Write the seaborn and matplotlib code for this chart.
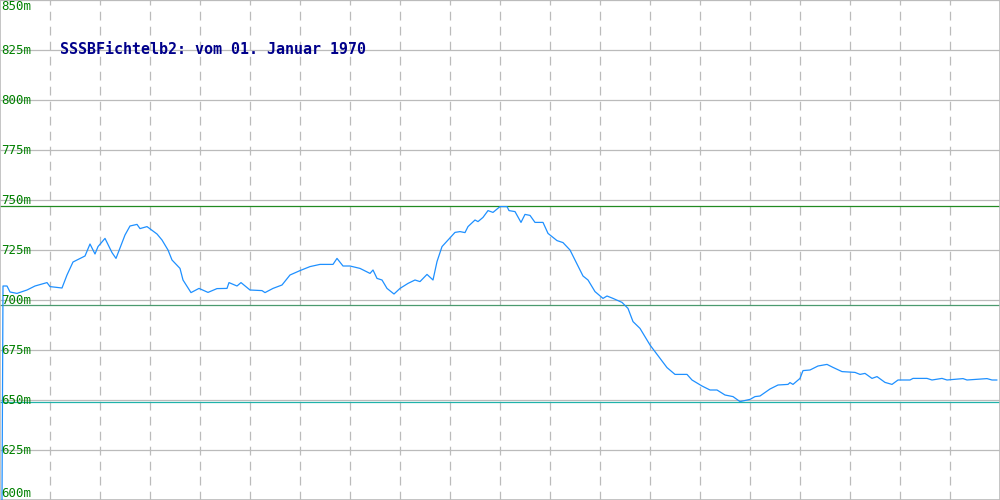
import matplotlib
matplotlib.use("Agg")
import matplotlib.pyplot as plt
import seaborn as sns
import pandas as pd

# profile data (distance index vs elevation in m)
dist = [2, 3, 7, 10, 17, 27, 35, 47, 50, 62, 67, 73, 85, 90, 95, 98, 105, 112, 116,
        125, 130, 137, 140, 147, 157, 162, 168, 172, 180, 183, 191, 199, 208, 217,
        227, 229, 237, 241, 250, 262, 265, 273, 282, 290, 300, 310, 320, 333, 337,
        343, 350, 360, 370, 373, 377, 382, 387, 394, 400, 408, 415, 420, 427, 433,
        437, 442, 448, 455, 460, 465, 468, 475, 478, 483, 488, 493, 500, 507, 509,
        515, 521, 525, 530, 535, 543, 548, 557, 563, 570, 575, 583, 588, 595, 603,
        607, 613, 622, 628, 633, 640, 650, 660, 667, 675, 687, 692, 702, 710, 717,
        725, 733, 740, 750, 755, 760, 770, 778, 788, 790, 793, 800, 803, 810, 818,
        827, 833, 842, 855, 860, 865, 872, 877, 885, 892, 898, 910, 913, 927, 932,
        942, 947, 963, 967, 987, 992, 997]
elev = [600, 707, 707, 704, 703.3, 705, 707, 708.7, 706.7, 706, 712.5, 719, 722, 728,
        723, 726.7, 730.8, 723.7, 720.8, 732.5, 737, 737.8, 735.7, 736.7, 733, 730,
        725, 720, 715.8, 710, 703.7, 705.8, 703.8, 705.7, 705.8, 708.7, 707, 708.7,
        705, 704.7, 703.7, 705.8, 707.5, 712.5, 714.7, 716.7, 717.8, 717.8, 720.8,
        717, 717, 715.8, 713.3, 715, 710.8, 710, 705.8, 703, 705.8, 708.3, 710,
        709.2, 712.8, 710, 719.2, 726.7, 730, 733.8, 734.2, 733.7, 736.7, 740,
        739.2, 741.3, 744.7, 743.8, 746.7, 746.7, 744.7, 744.2, 738.8, 742.8,
        742.3, 738.8, 738.8, 733.3, 729.7, 728.7, 725, 720, 712, 710, 704.2, 700.8,
        702, 700.8, 698.8, 695.8, 689.2, 685.8, 677.5, 670.8, 666.2, 662.8, 662.8,
        660, 657, 655, 655, 652.5, 651.7, 649.2, 650.3, 651.7, 652, 655.5, 657.5,
        657.8, 658.7, 657.8, 660.8, 664.7, 665, 667, 667.8, 666.3, 664.2, 663.8,
        662.8, 663.3, 660.8, 661.7, 658.8, 657.8, 660, 660, 660.8, 660.8, 660,
        660.8, 660, 660.7, 660, 660.7, 660, 660]

y_ticks = [600, 625, 650, 675, 700, 725, 750, 775, 800, 825, 850]
x_grid = [50, 100, 150, 200, 250, 300, 350, 400, 450, 500, 550, 600, 650, 700,
          750, 800, 850, 900, 950]
max_elev = 747
mid_elev = 697.5
min_elev = 649
title = "SSSBFichtelb2: vom 01. Januar 1970"

df = pd.DataFrame({"dist": dist, "elev": elev})

sns.set_style("white")
plt.rcParams["font.family"] = ["DejaVu Sans Mono", "DejaVu Sans"]

fig = plt.figure(figsize=(10, 5), dpi=100)
ax = fig.add_axes([0, 0, 1, 1])
ax.set_xlim(0, 1000)
ax.set_ylim(600, 850)

# grid
for v in y_ticks:
    ax.axhline(v, color="#bbbbbb", lw=0.9, zorder=1)
for x in x_grid:
    ax.axvline(x, color="#bbbbbb", lw=0.9, dashes=(7, 5), zorder=1)

# reference lines
ax.axhline(max_elev, color="#228b22", lw=0.9, zorder=2)
ax.axhline(mid_elev, color="#4a9a6e", lw=0.9, zorder=2)
ax.axhline(min_elev, color="#20b2aa", lw=0.9, zorder=2)

sns.lineplot(data=df, x="dist", y="elev", color="#1e90ff", lw=0.9, ax=ax,
             zorder=3, sort=False)

# tick labels inside the plot
for v in y_ticks:
    va = "center"
    if v == 850:
        va = "top"
    elif v == 600:
        va = "bottom"
    ax.text(1, v, f"{v}m", color="#008000", fontsize=9, va=va, ha="left", zorder=4)

ax.text(60, 825, title, color="#00008b", fontsize=10.8, fontweight="bold",
        va="center", ha="left", zorder=4)

ax.set_xticks([])
ax.set_yticks([])
ax.set_xlabel("")
ax.set_ylabel("")
for s in ax.spines.values():
    s.set_color("#bbbbbb")
    s.set_linewidth(1.2)

fig.savefig("out.png", dpi=100)
